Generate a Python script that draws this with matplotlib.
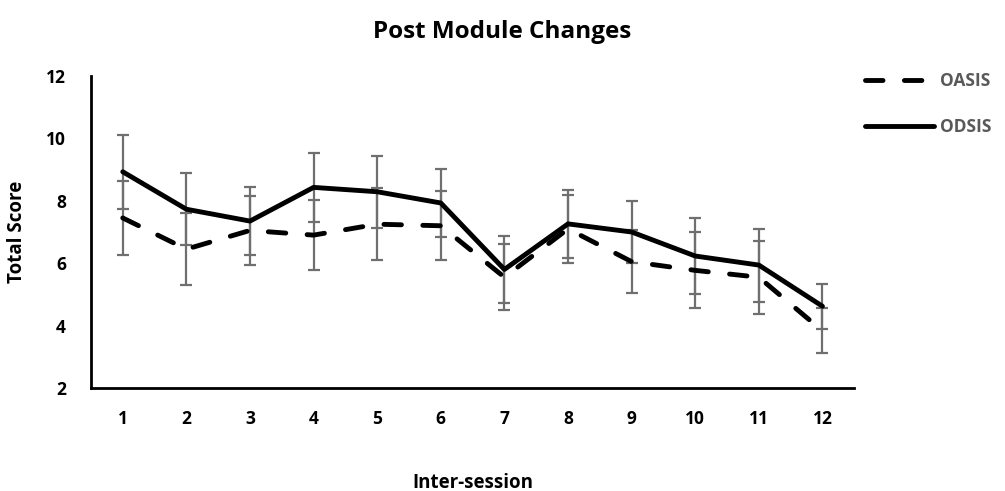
import matplotlib
matplotlib.use('Agg')
import matplotlib.pyplot as plt

plt.rcParams['font.family'] = ['Open Sans', 'DejaVu Sans']

sessions = [1, 2, 3, 4, 5, 6, 7, 8, 9, 10, 11, 12]
oasis = [7.45, 6.45, 7.05, 6.9, 7.25, 7.2, 5.55, 7.1, 6.05, 5.77, 5.55, 3.83]
oasis_err = [1.2, 1.15, 1.1, 1.12, 1.15, 1.1, 1.05, 1.08, 1.0, 1.22, 1.17, 0.72]
odsis = [8.93, 7.73, 7.35, 8.43, 8.29, 7.93, 5.8, 7.26, 7.0, 6.23, 5.94, 4.62]
odsis_err = [1.18, 1.15, 1.1, 1.11, 1.15, 1.1, 1.06, 1.1, 1.0, 1.23, 1.17, 0.72]

fig = plt.figure(figsize=(10.05, 4.91), dpi=100)
ax = fig.add_axes([0.0905, 0.2098, 0.7595, 0.6354])

err_col = '#6f6f6f'
ax.errorbar(sessions, oasis, yerr=oasis_err, fmt='none', ecolor=err_col,
            elinewidth=1.6, capsize=4.3, capthick=1.6, zorder=2)
ax.errorbar(sessions, odsis, yerr=odsis_err, fmt='none', ecolor=err_col,
            elinewidth=1.6, capsize=4.3, capthick=1.6, zorder=2)
ax.plot(sessions, oasis, color='black', lw=3.5, linestyle=(0, (3.6, 4.4)),
        dash_capstyle='round', solid_capstyle='round', label='OASIS', zorder=3)
ax.plot(sessions, odsis, color='black', lw=3.5, solid_capstyle='round',
        solid_joinstyle='round', label='ODSIS', zorder=3)

ax.set_xlim(0.5, 12.5)
ax.set_ylim(2, 12)
ax.set_xticks(sessions)
ax.set_xticklabels([str(s) for s in sessions])
ax.set_yticks([2, 4, 6, 8, 10, 12])
ax.tick_params(axis='both', length=0, labelsize=12.5)
ax.tick_params(axis='x', pad=16)
ax.tick_params(axis='y', pad=18)
for lab in ax.get_xticklabels() + ax.get_yticklabels():
    lab.set_fontweight('bold')

for s in ['top', 'right']:
    ax.spines[s].set_visible(False)
for s in ['left', 'bottom']:
    ax.spines[s].set_linewidth(2)

ax.set_xlabel('Inter-session', fontsize=13.5, fontweight='bold', labelpad=32)
ax.set_ylabel('Total Score', fontsize=13.5, fontweight='bold', labelpad=14)
fig.suptitle('Post Module Changes', fontsize=17.5, fontweight='bold',
             y=0.935, x=0.5, va='center')

leg = ax.legend(loc='upper left', bbox_to_anchor=(1.005, 1.035), frameon=False,
                fontsize=12.5, handlelength=4.0, handletextpad=0.3, labelspacing=1.6,
                borderaxespad=0.0)
for t in leg.get_texts():
    t.set_color('#595959')
    t.set_fontweight('bold')

fig.savefig('out.png', dpi=100)
